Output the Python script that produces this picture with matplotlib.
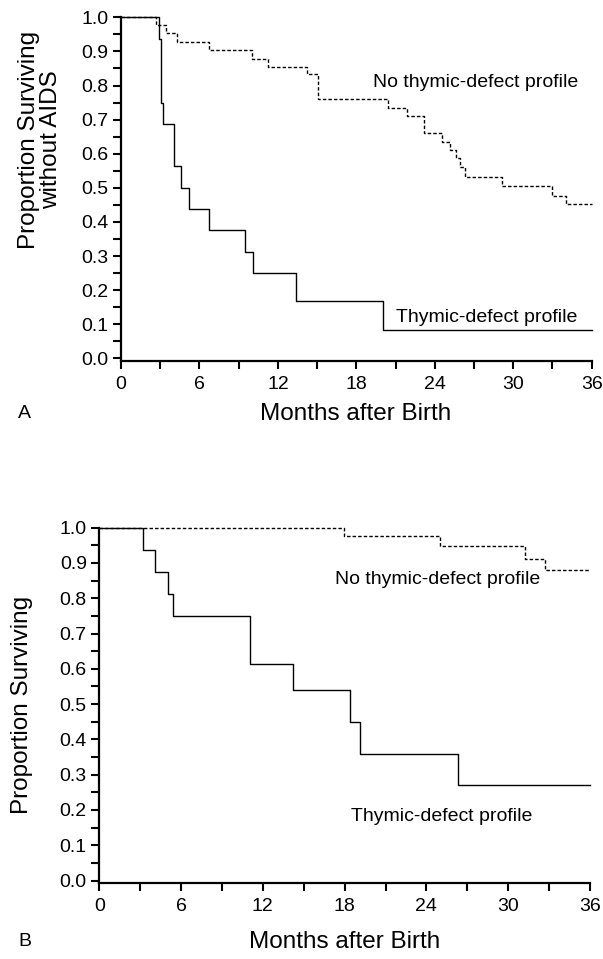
import matplotlib
matplotlib.use("Agg")
import matplotlib.pyplot as plt
from matplotlib.ticker import MultipleLocator

plt.rcParams['font.family'] = ['Liberation Sans', 'DejaVu Sans']

# ---------------------------
# Data
# ---------------------------
# Panel A: survival without AIDS
a_thymic_t = [0, 2.9, 3.03, 3.24, 4.06, 4.56, 5.23, 6.73, 9.45, 10.1, 13.35, 20.0, 36]
a_thymic_s = [1.0, 0.9375, 0.75, 0.6875, 0.5625, 0.5, 0.4375, 0.375, 0.3125, 0.25, 0.167, 0.083, 0.083]

a_normal_t = [0, 2.65, 3.42, 4.26, 6.73, 10.05, 11.27, 14.2, 15.05, 20.45, 21.86, 23.18,
              24.58, 25.2, 25.6, 25.95, 26.3, 29.17, 33.0, 34.02, 36]
a_normal_s = [1.0, 0.977, 0.953, 0.929, 0.904, 0.879, 0.855, 0.833, 0.761, 0.735, 0.711, 0.662,
              0.635, 0.61, 0.586, 0.56, 0.533, 0.505, 0.477, 0.452, 0.452]

# Panel B: overall survival
b_thymic_t = [0, 3.19, 4.05, 5.03, 5.44, 11.03, 14.19, 18.36, 19.1, 26.3, 36]
b_thymic_s = [1.0, 0.9375, 0.875, 0.8125, 0.75, 0.614, 0.54, 0.45, 0.36, 0.27, 0.27]

b_normal_t = [0, 17.95, 25.0, 31.24, 32.7, 36]
b_normal_s = [1.0, 0.976, 0.948, 0.912, 0.880, 0.880]

label_thymic = "Thymic-defect profile"
label_normal = "No thymic-defect profile"
x_label = "Months after Birth"

W, H = 603, 959
fig = plt.figure(figsize=(W / 100, H / 100), dpi=100)


def px_axes(left, right, top, bottom):
    return fig.add_axes([left / W, 1 - bottom / H, (right - left) / W, (bottom - top) / H])


def style_axis(ax):
    ax.set_xlim(0, 36)
    ax.set_ylim(-0.007, 1.0)
    ax.spines['top'].set_visible(False)
    ax.spines['right'].set_visible(False)
    for s in ('left', 'bottom'):
        ax.spines[s].set_linewidth(1.6)
    ax.xaxis.set_major_locator(MultipleLocator(6))
    ax.xaxis.set_minor_locator(MultipleLocator(3))
    ax.yaxis.set_major_locator(MultipleLocator(0.1))
    ax.yaxis.set_minor_locator(MultipleLocator(0.05))
    ax.tick_params(which='both', direction='out', length=6, width=1.5, labelsize=14)
    ax.tick_params(axis='x', pad=5)
    ax.tick_params(axis='y', pad=3)
    ax.yaxis.set_major_formatter(plt.FuncFormatter(lambda v, p: f"{v:.1f}"))


def draw_curves(ax, t1, s1, t2, s2):
    ax.step(t1, s1, where='post', color='black', lw=1.0, clip_on=False)
    ax.step(t2, s2, where='post', color='black', lw=1.0, linestyle=(0, (2.5, 1.5)), clip_on=False)


# ---------------------------
# Panel A
# ---------------------------
axA = px_axes(121, 591.7, 17.3, 360.7)
style_axis(axA)
draw_curves(axA, a_thymic_t, a_thymic_s, a_normal_t, a_normal_s)
axA.text(35.0, 0.795, label_normal, ha='right', va='baseline', fontsize=14)
axA.text(34.9, 0.106, label_thymic, ha='right', va='baseline', fontsize=14)
fig.text(40 / W, 1 - 140 / H, "Proportion Surviving\nwithout AIDS", rotation=90,
         ha='center', va='center', fontsize=17.5, linespacing=1.0)
fig.text(356 / W, 1 - 414 / H, x_label, ha='center', va='center', fontsize=17.5)
fig.text(18 / W, 1 - 414 / H, "A", ha='left', va='center', fontsize=14)

# ---------------------------
# Panel B
# ---------------------------
axB = px_axes(99.3, 590, 527.7, 883)
style_axis(axB)
draw_curves(axB, b_thymic_t, b_thymic_s, b_normal_t, b_normal_s)
axB.text(32.35, 0.84, label_normal, ha='right', va='baseline', fontsize=14)
axB.text(31.8, 0.168, label_thymic, ha='right', va='baseline', fontsize=14)
fig.text(22 / W, 1 - 705 / H, "Proportion Surviving", rotation=90,
         ha='center', va='center', fontsize=17.5)
fig.text(345 / W, 1 - 942 / H, x_label, ha='center', va='center', fontsize=17.5)
fig.text(18 / W, 1 - 942 / H, "B", ha='left', va='center', fontsize=14)

fig.savefig("out.png", dpi=100)
